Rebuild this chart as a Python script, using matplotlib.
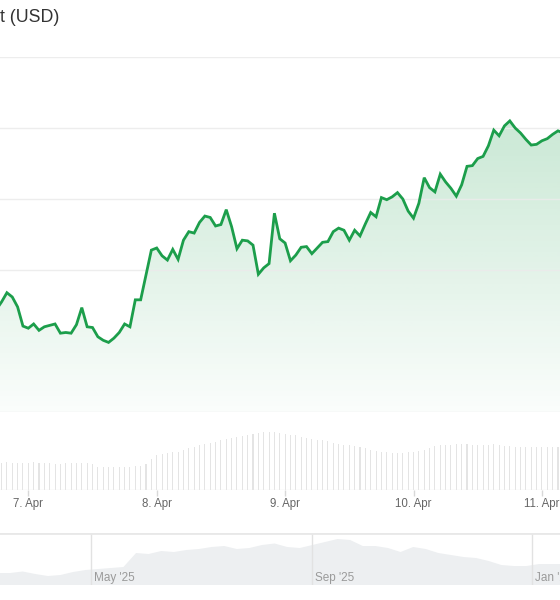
import numpy as np
import pandas as pd
import matplotlib
matplotlib.use("Agg")
import matplotlib.pyplot as plt

plt.rcParams["font.family"] = ["Liberation Sans", "DejaVu Sans"]

# hourly price (chart units), first point 6 Apr 18:00
price = [1.44, 1.55, 1.68, 1.62, 1.48, 1.21,
         1.18, 1.24, 1.15, 1.20, 1.22, 1.24, 1.11, 1.12, 1.11, 1.23,
         1.47, 1.20, 1.19, 1.06, 1.01, 0.98, 1.04, 1.12, 1.24, 1.20,
         1.58, 1.58, 1.93, 2.28, 2.31, 2.20, 2.14, 2.29, 2.15, 2.42,
         2.54, 2.52, 2.67, 2.76, 2.74, 2.62, 2.64, 2.85, 2.61, 2.30,
         2.42, 2.41, 2.35, 1.94, 2.03, 2.09, 2.80, 2.44, 2.38, 2.13,
         2.21, 2.32, 2.33, 2.23, 2.31, 2.39, 2.40, 2.54, 2.59, 2.56,
         2.42, 2.56, 2.48, 2.65, 2.81, 2.75, 3.02, 2.99, 3.03, 3.09,
         3.00, 2.83, 2.73, 2.94, 3.30, 3.16, 3.10, 3.35, 3.24, 3.15,
         3.04, 3.20, 3.46, 3.47, 3.57, 3.60, 3.75, 3.97, 3.89, 4.03,
         4.10, 4.00, 3.93, 3.84, 3.76, 3.77, 3.82, 3.85, 3.91, 3.96,
         3.93]

volume = [27, 27, 28, 27, 27, 27, 27, 28, 27, 27, 27, 26, 26, 27, 27, 27, 27, 27, 26,
          23, 23, 23, 23, 23, 23, 23, 24, 24, 26,
          31,
          35, 36, 37, 38, 38, 40, 42, 43, 45, 46,
          47, 48, 50, 51, 52, 53, 54, 55, 56, 57,
          58, 58, 58, 57, 56, 55, 55, 53, 52, 51,
          50, 50, 49, 47, 46, 45, 45, 44, 43, 42,
          40, 39, 38, 38, 37, 37, 37, 38, 38, 39,
          40, 42, 44, 45, 45, 45, 46, 46, 46, 45,
          45, 45, 45, 46, 45, 44, 44, 43, 43, 43,
          43, 43, 43, 43, 43, 43, 43]

hours = pd.date_range("2026-04-06 18:00", periods=len(price), freq="h")

day_ticks = pd.date_range("2026-04-07", periods=5, freq="D")
day_labels = ["7. Apr", "8. Apr", "9. Apr", "10. Apr", "11. Apr"]
grid_levels = [0, 2, 3, 4, 5]

# navigator (weekly)
nav_values = [12, 12, 13.5, 11, 9, 10, 13, 15, 16, 17, 18, 32, 31, 34, 33, 35,
              36, 38, 39, 36, 37, 40, 41.5, 38, 37, 40, 43, 46, 45, 39, 39, 37,
              33, 38, 36, 32, 30, 28, 27, 24, 20, 19, 19, 21, 21, 21]
nav_dates = pd.date_range("2025-03-10", periods=len(nav_values), freq="7D")
nav_ticks = pd.to_datetime(["2025-05-01", "2025-09-01", "2026-01-01"])
nav_labels = ["May '25", "Sep '25", "Jan '26"]

green = "#1c9e4b"

fig = plt.figure(figsize=(5.6, 6), dpi=100)
fig.text(0.0, 1 - 17 / 600, "t (USD)", fontsize=12.8, color="#333333",
         ha="left", va="center")

x0 = pd.Timestamp("2026-04-07") - pd.Timedelta(hours=5.29)
x1 = pd.Timestamp("2026-04-07") + pd.Timedelta(hours=99.38)

# main price panel
main = fig.add_axes([0, 1 - 412 / 600, 1, 355 / 600])
main.set_xlim(x0, x1)
main.set_ylim(0, 5)

fb = main.fill_between(hours, price, 0, color="none")
grad = np.zeros((256, 1, 4))
grad[:, 0, 0] = 0x1c / 255
grad[:, 0, 1] = 0x9e / 255
grad[:, 0, 2] = 0x4b / 255
grad[:, 0, 3] = np.linspace(0.02, 0.28, 256)
xl = main.get_xlim()
im = main.imshow(grad, extent=[xl[0], xl[1], 0, 5], origin="lower",
                 aspect="auto", zorder=1)
im.set_clip_path(fb.get_paths()[0], transform=main.transData)
for v in grid_levels:
    main.axhline(v, color="#ebebeb", lw=1, zorder=2, alpha=0.9)
main.plot(hours, price, color=green, lw=2, zorder=3, solid_joinstyle="miter")
main.set_xlim(x0, x1)
main.set_ylim(0, 5)
main.axis("off")

# volume panel
vol = fig.add_axes([0, 1 - 490 / 600, 1, 60 / 600])
vol.bar(hours, volume, width=0.2 / 24, color="#e4e4e4", zorder=2)
vol.axhline(0, color="#eeeeee", lw=1)
vol.set_xlim(x0, x1)
vol.set_ylim(0, 60)
for s in vol.spines.values():
    s.set_visible(False)
vol.set_yticks([])
vol.set_xticks(day_ticks)
vol.set_xticklabels(day_labels)
vol.tick_params(axis="x", length=4, width=1, color="#d8d8d8",
                labelcolor="#666666", labelsize=8.3, pad=2)

# navigator
nav = fig.add_axes([0, 1 - 585 / 600, 1, 52 / 600])
nav.fill_between(nav_dates, nav_values, 0, color="#edeff1", lw=0, zorder=1)
for t, lab in zip(nav_ticks, nav_labels):
    nav.axvline(t, color="#e2e2e2", lw=1, zorder=2)
    nav.text(t + pd.Timedelta(days=1.7), 7, lab, fontsize=8.5,
             color="#9a9a9a", ha="left", va="center", zorder=3)
nav.set_xlim(pd.Timestamp("2025-05-01") - pd.Timedelta(days=50.6),
             pd.Timestamp("2025-05-01") + pd.Timedelta(days=260.6))
nav.set_ylim(0, 52)
nav.set_xticks([])
nav.set_yticks([])
for s in nav.spines.values():
    s.set_visible(False)
nav.axhline(52, color="#e8e8e8", lw=2, zorder=4)

fig.savefig("out.png", dpi=100)
